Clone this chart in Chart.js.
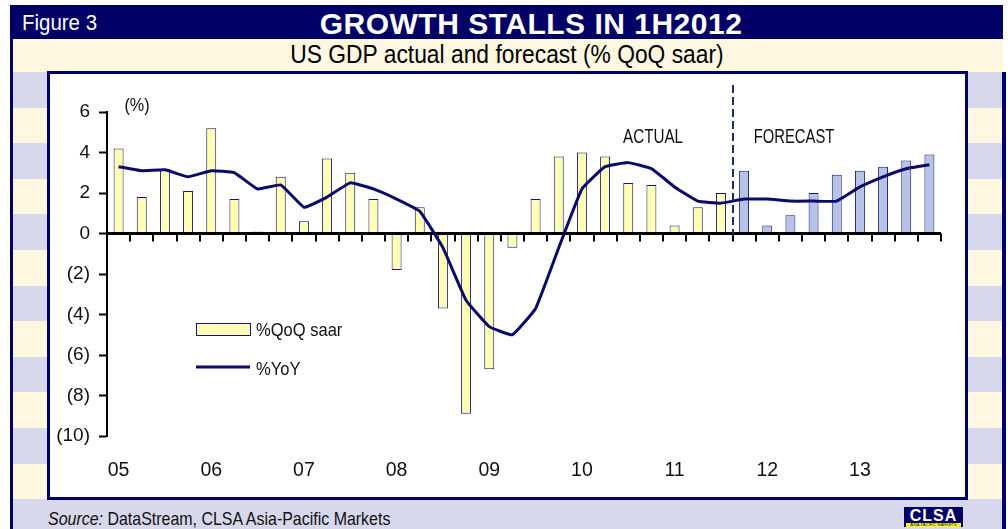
<!DOCTYPE html>
<html>
<head>
<meta charset="utf-8">
<script src="https://cdn.jsdelivr.net/npm/chart.js@4.4.0/dist/chart.umd.min.js"></script>
<style>
  body { margin: 0; width: 1008px; height: 529px; background: #fff; position: relative; overflow: hidden;
         font-family: 'Liberation Sans', Arial, sans-serif; }
  .abs { position: absolute; white-space: nowrap; }
  #header { left: 10px; top: 5px; width: 993px; height: 34px; background: #000066; }
  #figNo { left: 22px; top: 12px; font-size: 22px; line-height: 22px; color: #fff;
           transform: scaleX(0.93); transform-origin: left center; }
  #title { left: 231px; top: 9px; width: 600px; text-align: center; color: #fff;
           font-weight: bold; font-size: 30px; line-height: 30px; letter-spacing: 0.5px; }
  #leftEdge { left: 10px; top: 39px; width: 3px; height: 490px; background: #000066; }
  #subBand { left: 13px; top: 39px; width: 990px; height: 33px; background: #fff7e0; }
  #subtitle { left: 207px; top: 42px; width: 600px; text-align: center; font-size: 25.5px; line-height: 25.5px; color: #000;
              transform: scaleX(0.895); transform-origin: center center; }
  #stripes { left: 13px; top: 72px; width: 989px; height: 427px;
             background: repeating-linear-gradient(to bottom, #d8d8ec 0 35.6px, #fff7e0 35.6px 71.2px); }
  #rightEdge { left: 1002px; top: 72px; width: 4px; height: 457px; background: #000066; }
  #foot { left: 13px; top: 499px; width: 989px; height: 30px; background: #d8d8ec; }
  #source { left: 48px; top: 508px; font-size: 19px; line-height: 22px; color: #111;
            transform: scaleX(0.84); transform-origin: left center; }
  #logo { left: 904px; top: 507px; width: 59px; height: 20px; background: #000066; }
  #logoText { position: absolute; left: 0; top: 1px; width: 59px; text-align: center; color: #fff;
              font: bold 16px/16px 'Liberation Sans', Arial, sans-serif; letter-spacing: 1px; }
  #logoBar { position: absolute; left: 2px; top: 16px; width: 55px; height: 4px; background: #ffff00;
             color: #000066; font: 4px/4px 'Liberation Sans', Arial, sans-serif; text-align: center; overflow: hidden; }
  #plot { left: 47px; top: 71px; width: 921px; height: 429px; box-sizing: border-box; border: 3px solid #000066; background: #fff; }
  #chart { display: block; }
</style>
</head>
<body>
<div id="header" class="abs"></div>
<div id="figNo" class="abs">Figure 3</div>
<div id="title" class="abs">GROWTH STALLS IN 1H2012</div>
<div id="leftEdge" class="abs"></div>
<div id="subBand" class="abs"></div>
<div id="subtitle" class="abs">US GDP actual and forecast (% QoQ saar)</div>
<div id="stripes" class="abs"></div>
<div id="rightEdge" class="abs"></div>
<div id="foot" class="abs"></div>
<div id="source" class="abs"><i>Source:</i> DataStream, CLSA Asia-Pacific Markets</div>
<div id="logo" class="abs"><div id="logoText">CLSA</div><div id="logoBar">ASIA-PACIFIC MARKETS</div></div>
<div id="plot" class="abs"><canvas id="chart" width="915" height="423"></canvas></div>

<script>
// quarters 1Q05 .. 4Q13
const quarters = [
  '1Q05','2Q05','3Q05','4Q05','1Q06','2Q06','3Q06','4Q06',
  '1Q07','2Q07','3Q07','4Q07','1Q08','2Q08','3Q08','4Q08',
  '1Q09','2Q09','3Q09','4Q09','1Q10','2Q10','3Q10','4Q10',
  '1Q11','2Q11','3Q11','4Q11','1Q12','2Q12','3Q12','4Q12',
  '1Q13','2Q13','3Q13','4Q13'
];
const yearTicks = ['05','06','07','08','09','10','11','12','13'];
const firstForecast = '4Q11';

// % QoQ saar (bars)
const qoqSaar = [
  4.2, 1.8, 3.2, 2.1,   5.2, 1.7, 0.1, 2.8,
  0.6, 3.7, 3.0, 1.7,  -1.8, 1.3, -3.7, -8.9,
 -6.7, -0.7, 1.7, 3.8,  4.0, 3.8, 2.5, 2.4,
  0.4, 1.3, 2.0, 3.1,   0.4, 0.9, 2.0, 2.9,
  3.1, 3.3, 3.6, 3.9
];
// % YoY (line)
const yoy = [
  3.3, 3.1, 3.15, 2.8,  3.1, 3.0, 2.2, 2.4,
  1.3, 1.8, 2.5, 2.2,   1.7, 1.1, -0.7, -3.3,
 -4.6, -5.0, -3.7, -0.7, 2.2, 3.3, 3.5, 3.2,
  2.3, 1.6, 1.5, 1.7,   1.7, 1.6, 1.6, 1.6,
  2.3, 2.8, 3.2, 3.4
];

const NAVY = '#000066';
const LINE = '#0a0a6b';
const ACT_FILL = '#ffffb3';
const FC_FILL = '#b6c2e6';
const BAR_EDGE = '#14147a';
const SANS = "'Liberation Sans', Arial, sans-serif";

const fcIdx = quarters.indexOf(firstForecast);

// condensed text (no narrow font installed)
function narrowText(ctx, text, x, y, size, sx, align) {
  ctx.save();
  ctx.translate(x, y);
  ctx.scale(sx, 1);
  ctx.font = size + 'px ' + SANS;
  ctx.textAlign = align;
  ctx.textBaseline = 'alphabetic';
  ctx.fillText(text, 0, 0);
  ctx.restore();
}

// extra bits: ticks on zero line, divider, labels, legend
const decor = {
  id: 'decor',
  afterDatasetsDraw(chart) {
    const { ctx, scales: { x, y } } = chart;
    const y0 = y.getPixelForValue(0);
    ctx.save();

    // tick marks under the zero line
    ctx.strokeStyle = '#000';
    ctx.lineWidth = 2;
    for (let i = 1; i <= quarters.length; i++) {
      const px = Math.round(x.getPixelForValue(i - 0.5));
      ctx.beginPath();
      ctx.moveTo(px, y0);
      ctx.lineTo(px, y0 + 8);
      ctx.stroke();
    }

    // actual / forecast divider
    const dx = Math.round(x.getPixelForValue(fcIdx - 0.5));
    ctx.strokeStyle = '#1c2c6e';
    ctx.setLineDash([8, 4]);
    ctx.beginPath();
    ctx.moveTo(dx, 11);
    ctx.lineTo(dx, y0);
    ctx.stroke();
    ctx.setLineDash([]);

    ctx.fillStyle = '#111';
    narrowText(ctx, 'ACTUAL', dx - 80, 69, 19.5, 0.78, 'center');
    narrowText(ctx, 'FORECAST', dx + 61, 69, 19.5, 0.76, 'center');
    narrowText(ctx, '(%)', 87, 37, 18, 0.9, 'center');

    // legend
    ctx.fillStyle = ACT_FILL;
    ctx.fillRect(146, 249, 54, 12);
    ctx.strokeStyle = BAR_EDGE;
    ctx.lineWidth = 1;
    ctx.strokeRect(146.5, 249.5, 54, 12);
    ctx.fillStyle = '#111';
    narrowText(ctx, '%QoQ saar', 206, 262, 19, 0.87, 'left');

    ctx.strokeStyle = LINE;
    ctx.lineWidth = 3;
    ctx.beginPath();
    ctx.moveTo(146, 293);
    ctx.lineTo(200, 293);
    ctx.stroke();
    narrowText(ctx, '%YoY', 206, 301, 19, 0.87, 'left');

    ctx.restore();
  }
};

new Chart(document.getElementById('chart'), {
  type: 'bar',
  data: {
    labels: quarters,
    datasets: [
      {
        type: 'line',
        label: '%YoY',
        data: yoy,
        borderColor: LINE,
        borderWidth: 3,
        pointRadius: 0,
        tension: 0.1,
        order: 1
      },
      {
        type: 'bar',
        label: '%QoQ saar',
        data: qoqSaar,
        backgroundColor: c => c.dataIndex >= fcIdx ? FC_FILL : ACT_FILL,
        borderColor: BAR_EDGE,
        borderWidth: 1,
        barPercentage: 0.43,
        categoryPercentage: 1,
        order: 2
      }
    ]
  },
  options: {
    responsive: false,
    devicePixelRatio: 1,
    animation: false,
    layout: { padding: { top: 38, right: 24, left: 0, bottom: 0 } },
    plugins: { legend: { display: false }, tooltip: { enabled: false } },
    scales: {
      x: {
        afterFit: s => { s.height = 61; },
        grid: { display: false, drawTicks: false },
        border: { display: false },
        ticks: {
          autoSkip: false,
          maxRotation: 0,
          padding: 23,
          color: '#111',
          font: { family: SANS, size: 19.5 },
          callback: (v, i) => i % 4 === 0 ? yearTicks[i / 4] : ''
        }
      },
      y: {
        min: -10,
        max: 6,
        afterFit: s => { s.width = 57; },
        grid: {
          color: c => c.tick && c.tick.value === 0 ? '#000' : 'rgba(0,0,0,0)',
          lineWidth: c => c.tick && c.tick.value === 0 ? 3 : 1,
          tickColor: '#000',
          tickWidth: 2,
          tickLength: 8
        },
        border: { display: true, color: '#000', width: 2 },
        ticks: {
          stepSize: 2,
          padding: 9,
          color: '#111',
          font: { family: SANS, size: 19 },
          callback: v => v < 0 ? '(' + (-v) + ')' : String(v)
        }
      }
    }
  },
  plugins: [decor]
});
</script>
</body>
</html>
